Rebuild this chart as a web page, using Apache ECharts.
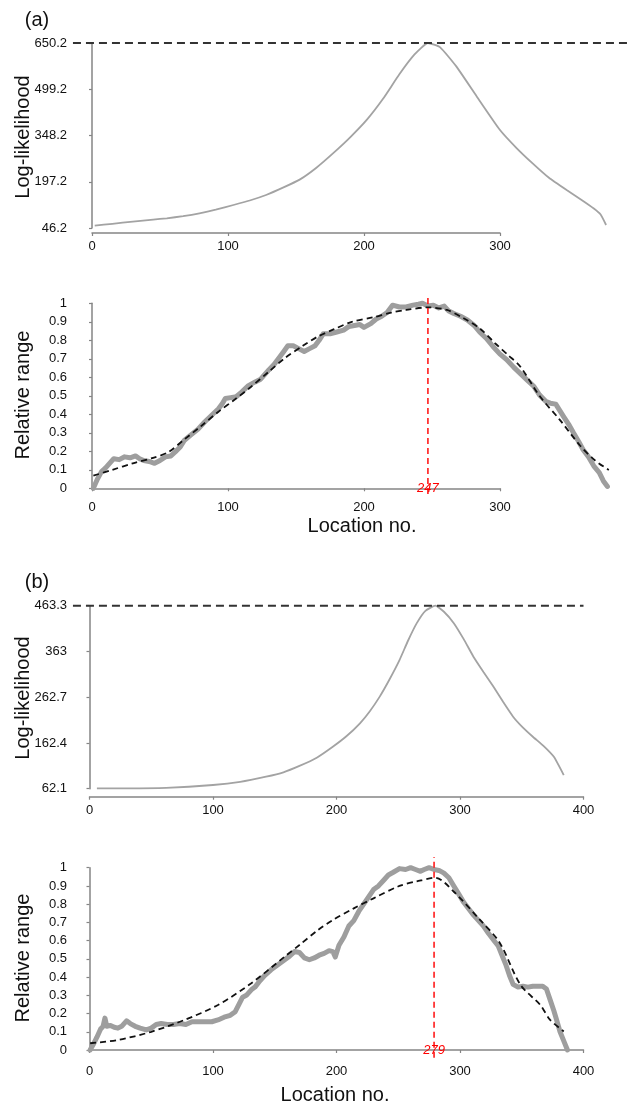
<!DOCTYPE html>
<html><head><meta charset="utf-8">
<script src="https://cdn.jsdelivr.net/npm/echarts@6/dist/echarts.min.js"></script>
<style>html,body{margin:0;padding:0;background:#fff}#c{width:627px;height:1105px}</style>
</head><body><div id="c"></div>
<script>
// ---------- Panel (a) ----------
const aLLLoc = [2, 15, 30, 45, 55, 67, 79, 91, 104, 116, 128, 140, 153, 165, 178, 190, 202, 214, 226, 237, 247, 256, 268, 283, 300, 312, 324, 336, 349, 360, 369, 374, 378];
const aLLVal = [53.7, 60, 66.8, 73.5, 77.9, 85, 94.2, 106, 121.3, 136, 154, 177, 205, 243, 293, 343, 399, 468, 548, 612, 650.2, 636, 573, 475, 366, 308, 257, 210, 170, 138, 110, 90, 56];
const aMax = 650.2;
const aYTicks = {min: 46.2, max: 650.2, step: 151};

const aRangeLoc = [1, 4, 7, 10, 16, 20, 24, 28, 32, 35, 38, 42, 46, 50, 54, 58, 61, 65, 68, 73, 78, 83, 88, 93, 96, 98, 102, 106, 110, 115, 120, 124, 130, 134, 138, 141, 144, 148, 152, 156, 160, 164, 167, 170, 175, 180, 185, 189, 193, 197, 200, 205, 209, 213, 217, 221, 226, 231, 236, 240, 243, 247, 251, 255, 259, 262, 266, 271, 276, 281, 285, 290, 295, 300, 305, 310, 315, 320, 325, 329, 334, 337, 341, 344, 347, 351, 354, 358, 361, 365, 369, 373, 376, 379];
const aRangeVal = [0.0, 0.05, 0.09, 0.11, 0.16, 0.155, 0.17, 0.165, 0.175, 0.16, 0.15, 0.145, 0.135, 0.15, 0.17, 0.175, 0.195, 0.225, 0.26, 0.29, 0.32, 0.36, 0.395, 0.43, 0.46, 0.485, 0.49, 0.495, 0.52, 0.555, 0.575, 0.59, 0.64, 0.67, 0.71, 0.74, 0.77, 0.77, 0.755, 0.74, 0.755, 0.77, 0.8, 0.835, 0.835, 0.845, 0.855, 0.875, 0.88, 0.885, 0.87, 0.89, 0.915, 0.93, 0.95, 0.99, 0.98, 0.98, 0.99, 0.995, 1.0, 0.985, 0.99, 0.975, 0.985, 0.96, 0.945, 0.93, 0.91, 0.88, 0.845, 0.81, 0.765, 0.725, 0.695, 0.655, 0.62, 0.585, 0.55, 0.505, 0.468, 0.46, 0.455, 0.42, 0.385, 0.34, 0.3, 0.25, 0.21, 0.17, 0.12, 0.085, 0.04, 0.01];
const aFitLoc = [1, 15, 30, 45, 56, 68, 80, 93, 105, 117, 130, 142, 155, 166, 178, 191, 207, 220, 231, 247, 261, 273, 285, 297, 306, 315, 329, 344, 359, 370, 380];
const aFitVal = [0.068, 0.1, 0.135, 0.165, 0.195, 0.265, 0.335, 0.414, 0.48, 0.549, 0.63, 0.705, 0.77, 0.82, 0.86, 0.9, 0.925, 0.95, 0.964, 0.978, 0.964, 0.92, 0.865, 0.78, 0.72, 0.657, 0.5, 0.37, 0.23, 0.15, 0.099];
const aPeak = 247;

// ---------- Panel (b) ----------
const bLLLoc = [6, 30, 62, 100, 122, 143, 157, 170, 184, 197, 208, 219, 227, 235, 243, 251, 258, 265, 272, 280, 287, 295, 303, 311, 319, 327, 335, 343, 351, 359, 368, 376, 384];
const bLLVal = [63, 63, 64, 70.2, 77, 88.4, 98, 112, 130, 154, 177, 205.5, 232, 264, 302, 344, 387, 425, 452, 463.3, 450, 425, 390, 351, 318, 286, 252, 220, 196, 176, 155, 132, 92];
const bMax = 463.3;
const bYTicks = {min: 62.1, max: 463.3, step: 100.3};

const bRangeLoc = [0.5, 3, 6, 9, 11, 12.5, 14, 17, 20, 23, 26, 30, 33, 37, 41, 46, 50, 54, 58, 63, 68, 73, 78, 83, 88, 93, 99, 104, 109, 114, 118, 121, 124, 127, 131, 134, 138, 142, 147, 152, 157, 162, 166, 170, 174, 178, 182, 186, 190, 194, 197, 199, 202, 206, 210, 214, 218, 222, 226, 230, 234, 238, 242, 246, 251, 256, 260, 264, 268, 271, 275, 279, 283, 287, 291, 295, 299, 303, 307, 311, 315, 319, 323, 327, 331, 334, 337, 340, 343, 347, 351, 355, 359, 363, 367, 370, 373, 376, 378, 381, 384, 387];
const bRangeVal = [0.0, 0.03, 0.07, 0.115, 0.13, 0.175, 0.13, 0.135, 0.125, 0.12, 0.13, 0.16, 0.145, 0.13, 0.12, 0.11, 0.12, 0.14, 0.145, 0.14, 0.14, 0.145, 0.14, 0.155, 0.155, 0.155, 0.155, 0.165, 0.18, 0.19, 0.21, 0.25, 0.29, 0.3, 0.33, 0.345, 0.38, 0.41, 0.44, 0.465, 0.49, 0.515, 0.54, 0.535, 0.505, 0.495, 0.505, 0.52, 0.53, 0.545, 0.54, 0.51, 0.575, 0.62, 0.68, 0.71, 0.76, 0.8, 0.84, 0.88, 0.9, 0.93, 0.96, 0.975, 0.995, 0.99, 1.0, 0.99, 0.98, 0.99, 1.0, 0.99, 0.985, 0.97, 0.945, 0.9, 0.855, 0.81, 0.775, 0.74, 0.71, 0.68, 0.64, 0.605, 0.57, 0.52, 0.47, 0.41, 0.36, 0.345, 0.35, 0.345, 0.35, 0.35, 0.35, 0.335, 0.275, 0.215, 0.17, 0.1, 0.05, 0.0];
const bFitLoc = [0.5, 23, 50, 77, 104, 131, 158, 170, 185, 197, 214, 230, 251, 265, 280, 295, 316, 332, 349, 365, 373, 384];
const bFitVal = [0.037, 0.055, 0.1, 0.165, 0.247, 0.366, 0.512, 0.576, 0.658, 0.713, 0.777, 0.832, 0.9, 0.925, 0.945, 0.868, 0.715, 0.59, 0.357, 0.247, 0.165, 0.102];
const bPeak = 279;

const xTicksStep = 100;
const yRangeTicks = {min: 0, max: 1, step: 0.1};

// ---------- build ----------
const W = 627;
const FONT = 'Liberation Sans, Arial, sans-serif';
const pairs = (xs, ys) => xs.map((x, i) => [x, ys[i]]);
const fmt = v => String(Math.round(v * 10) / 10);

// visible-axis grids (plot frames)
const frames = [
  {g: {left: 92, top: 43, width: 408, height: 185}, x: [0, 300], y: aYTicks, xOff: 5, yOff: 19},
  {g: {left: 92, top: 303.3, width: 408, height: 185}, x: [0, 300], y: yRangeTicks, xOff: 5.7, yOff: 19},
  {g: {left: 89.5, top: 605.7, width: 494, height: 183}, x: [0, 400], y: bYTicks, xOff: 8, yOff: 16.5},
  {g: {left: 89.5, top: 867.7, width: 494, height: 182.3}, x: [0, 400], y: yRangeTicks, xOff: 7.7, yOff: 16.5}
];
const PAD = 30;
const axisLine = {show: true, lineStyle: {color: '#858585', width: 1.5}};
const axisTick = {show: true, length: 3, lineStyle: {color: '#858585', width: 1.2}};
const labelStyle = {color: '#111', fontSize: 13, fontFamily: FONT};

const grid = [], xAxis = [], yAxis = [];
frames.forEach((f, i) => {
  grid.push(f.g);
  xAxis.push({type: 'value', gridIndex: i, min: f.x[0], max: f.x[1], interval: xTicksStep, offset: f.xOff,
    axisLine, axisTick, splitLine: {show: false}, axisLabel: Object.assign({margin: 7}, labelStyle)});
  yAxis.push({type: 'value', gridIndex: i, min: f.y.min, max: f.y.max, interval: f.y.step, offset: f.yOff,
    axisLine, axisTick, splitLine: {show: false}, axisLabel: Object.assign({margin: 6, formatter: fmt}, labelStyle)});
});
// data grids: same scale as frames but spanning the full width (so marks may run past the axis ends)
frames.forEach((f, i) => {
  const g = f.g;
  const sx = (f.x[1] - f.x[0]) / g.width, sy = (f.y.max - f.y.min) / g.height;
  grid.push({left: 0, width: W, top: g.top - PAD, height: g.height + 2 * PAD});
  xAxis.push({type: 'value', gridIndex: 4 + i, show: false, splitLine: {show: false},
    min: f.x[0] - g.left * sx, max: f.x[1] + (W - g.left - g.width) * sx});
  yAxis.push({type: 'value', gridIndex: 4 + i, show: false, splitLine: {show: false},
    min: f.y.min - PAD * sy, max: f.y.max + PAD * sy});
});

function llSeries(i, xs, ys) {
  return {type: 'line', xAxisIndex: 4 + i, yAxisIndex: 4 + i, data: pairs(xs, ys), smooth: 0.15,
    showSymbol: false, lineStyle: {color: '#a3a3a3', width: 1.8}, silent: true};
}
function maxLine(i, xFrom, xTo, y) {
  return {type: 'line', xAxisIndex: 4 + i, yAxisIndex: 4 + i, data: [[xFrom, y], [xTo, y]],
    showSymbol: false, lineStyle: {color: '#333', width: 2, type: [8, 5]}, silent: true, z: 3};
}
function rangeSeries(i, xs, ys) {
  return {type: 'line', xAxisIndex: 4 + i, yAxisIndex: 4 + i, data: pairs(xs, ys), showSymbol: false,
    lineStyle: {color: '#9e9e9e', width: 5, cap: 'round', join: 'round'}, silent: true};
}
function fitSeries(i, xs, ys) {
  return {type: 'line', xAxisIndex: 4 + i, yAxisIndex: 4 + i, data: pairs(xs, ys), smooth: 0.3, showSymbol: false,
    lineStyle: {color: '#111', width: 1.8, type: [6, 4]}, silent: true, z: 3};
}
function peakLine(i, x, y0, y1) {
  return {type: 'line', xAxisIndex: 4 + i, yAxisIndex: 4 + i, data: [[x, y0], [x, y1]], showSymbol: false,
    lineStyle: {color: '#ff1a1a', width: 1.6, type: [6, 4]}, silent: true, z: 4};
}
function txt(x, y, s, font, rot, fill) {
  return {type: 'text', x: x, y: y, rotation: rot || 0, z: 100,
    style: {text: s, fill: fill || '#111', font: font, textAlign: 'center', textVerticalAlign: 'middle'}};
}

const chart = echarts.init(document.getElementById('c'), null, {renderer: 'canvas'});
chart.setOption({
  animation: false,
  backgroundColor: '#fff',
  grid, xAxis, yAxis,
  series: [
    llSeries(0, aLLLoc, aLLVal), maxLine(0, -14, 400, aMax),
    rangeSeries(1, aRangeLoc, aRangeVal), fitSeries(1, aFitLoc, aFitVal),
    peakLine(1, aPeak, -0.031, 1.045),
    llSeries(2, bLLLoc, bLLVal), maxLine(2, -13.4, 400, bMax),
    rangeSeries(3, bRangeLoc, bRangeVal), fitSeries(3, bFitLoc, bFitVal),
    peakLine(3, bPeak, -0.042, 1.059)
  ]
});
// peak labels placed through the chart's own scales
const pA = chart.convertToPixel({xAxisIndex: 5, yAxisIndex: 5}, [aPeak, 0]);
const pB = chart.convertToPixel({xAxisIndex: 7, yAxisIndex: 7}, [bPeak, 0]);
const F20 = '20px ' + FONT;
chart.setOption({
  graphic: [
    txt(37, 20, '(a)', F20), txt(37, 582, '(b)', F20),
    txt(23, 137, 'Log-likelihood', F20, Math.PI / 2),
    txt(23, 395, 'Relative range', F20, Math.PI / 2),
    txt(23, 698, 'Log-likelihood', F20, Math.PI / 2),
    txt(23, 958, 'Relative range', F20, Math.PI / 2),
    txt(362, 526, 'Location no.', F20), txt(335, 1095, 'Location no.', F20),
    txt(pA[0], pA[1], String(aPeak), 'italic 13px ' + FONT, 0, '#ff0000'),
    txt(pB[0], pB[1], String(bPeak), 'italic 13px ' + FONT, 0, '#ff0000')
  ]
});
</script></body></html>
